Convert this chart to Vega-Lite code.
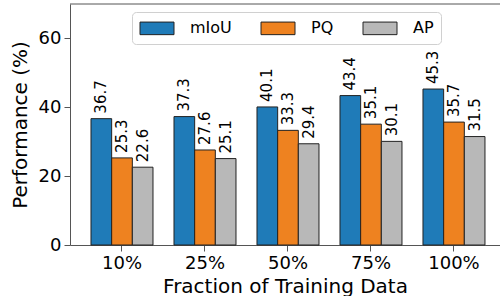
{
  "$schema": "https://vega.github.io/schema/vega-lite/v6.json",
  "width": 430,
  "height": 241,
  "autosize": "none",
  "padding": {"left": 70, "top": 4, "right": 0, "bottom": 51},
  "config": {
    "font": "DejaVu Sans",
    "view": {"stroke": null},
    "axis": {
      "domainColor": "#555",
      "tickColor": "#555",
      "tickSize": 6,
      "labelFontSize": 18,
      "titleFontSize": 20,
      "labelColor": "black",
      "titleColor": "black",
      "titleFontWeight": "normal",
      "grid": false,
      "labelPadding": 3
    }
  },
  "datasets": {
    "scores": [
      {"fraction": "10%", "metric": "mIoU", "value": 36.7},
      {"fraction": "10%", "metric": "PQ", "value": 25.3},
      {"fraction": "10%", "metric": "AP", "value": 22.6},
      {"fraction": "25%", "metric": "mIoU", "value": 37.3},
      {"fraction": "25%", "metric": "PQ", "value": 27.6},
      {"fraction": "25%", "metric": "AP", "value": 25.1},
      {"fraction": "50%", "metric": "mIoU", "value": 40.1},
      {"fraction": "50%", "metric": "PQ", "value": 33.3},
      {"fraction": "50%", "metric": "AP", "value": 29.4},
      {"fraction": "75%", "metric": "mIoU", "value": 43.4},
      {"fraction": "75%", "metric": "PQ", "value": 35.1},
      {"fraction": "75%", "metric": "AP", "value": 30.1},
      {"fraction": "100%", "metric": "mIoU", "value": 45.3},
      {"fraction": "100%", "metric": "PQ", "value": 35.7},
      {"fraction": "100%", "metric": "AP", "value": 31.5}
    ],
    "frame": [{"top": 70}]
  },
  "layer": [
    {
      "data": {"name": "scores"},
      "mark": {"type": "bar", "stroke": "#222", "strokeWidth": 1},
      "encoding": {
        "x": {
          "field": "fraction",
          "type": "nominal",
          "sort": ["10%", "25%", "50%", "75%", "100%"],
          "scale": {"paddingInner": 0.253, "paddingOuter": 0.217, "align": 0.583},
          "axis": {"labelAngle": 0, "titlePadding": 4},
          "title": "Fraction of Training Data"
        },
        "xOffset": {
          "field": "metric",
          "type": "nominal",
          "sort": ["mIoU", "PQ", "AP"],
          "scale": {"paddingInner": 0, "paddingOuter": 0}
        },
        "y": {
          "field": "value",
          "type": "quantitative",
          "scale": {"domain": [0, 70], "nice": false},
          "axis": {"values": [0, 20, 40, 60], "titlePadding": 8},
          "title": "Performance (%)"
        },
        "fill": {
          "field": "metric",
          "type": "nominal",
          "sort": ["mIoU", "PQ", "AP"],
          "scale": {"domain": ["mIoU", "PQ", "AP"], "range": ["#1f7bb8", "#ee8220", "#b8b8b8"]},
          "legend": {
            "orient": "none",
            "legendX": 62,
            "legendY": 8,
            "direction": "horizontal",
            "title": null,
            "fillColor": "white",
            "strokeColor": "#d0d0d0",
            "cornerRadius": 4,
            "padding": 7,
            "labelFontSize": 16,
            "labelColor": "black",
            "symbolType": "M-2,-0.74H2V0.74H-2Z",
            "symbolSize": 289,
            "symbolOffset": 9,
            "symbolStrokeColor": "#222",
            "symbolStrokeWidth": 1,
            "symbolOpacity": 1,
            "labelOffset": 24,
            "columnPadding": 27
          }
        }
      }
    },
    {
      "data": {"name": "scores"},
      "mark": {"type": "text", "angle": 270, "align": "left", "baseline": "middle", "dx": 5, "fontSize": 15, "color": "black"},
      "encoding": {
        "x": {"field": "fraction", "type": "nominal", "sort": ["10%", "25%", "50%", "75%", "100%"]},
        "xOffset": {"field": "metric", "type": "nominal", "sort": ["mIoU", "PQ", "AP"]},
        "y": {"field": "value", "type": "quantitative"},
        "text": {"field": "value", "type": "quantitative", "format": ".1f"}
      }
    },
    {
      "data": {"name": "frame"},
      "mark": {"type": "rule", "color": "#555", "strokeWidth": 1},
      "encoding": {"y": {"field": "top", "type": "quantitative"}}
    }
  ]
}
